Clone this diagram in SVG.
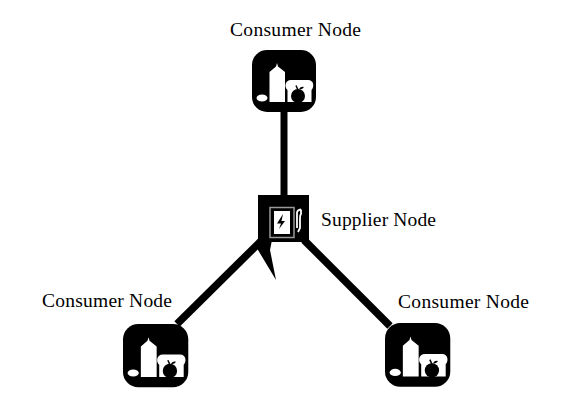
<svg xmlns="http://www.w3.org/2000/svg" width="569" height="404" viewBox="0 0 569 404">
<style>
text{font-family:"Liberation Serif","Times New Roman",serif;font-size:19.5px;fill:#000}
.w{fill:#fff}
</style>
<defs>
<g id="food">
<rect x="0" y="0" width="64" height="62" rx="15" fill="#000"/>
<path class="w" d="M17.500 52V22L24 16.500L25 13L26 16.500L33 22V52Z"/>
<ellipse class="w" cx="10" cy="48" rx="5.500" ry="3.500"/>
<path class="w" d="M35.500 52V40C32 37 33 30 39 30H56C62 30 62.500 37 59.500 40V52Z"/>
<circle cx="46" cy="46" r="7" fill="#000"/>
<path d="M46 40L44 35.500" stroke="#000" stroke-width="1.500" fill="none"/>
<path d="M47 39Q49 36 52 37Q50 40 47 39Z" fill="#000"/>
</g>
</defs>
<rect width="569" height="404" fill="#fff"/>
<g id="connectors">
<path d="M284 108V197" stroke="#000" stroke-width="7" fill="none"/>
<path d="M262 240L177 324" stroke="#000" stroke-width="7.500" fill="none"/>
<path d="M304 240L390 326" stroke="#000" stroke-width="7.500" fill="none"/>
<path d="M258 240V250L276 280L270 250L272 240Z" fill="#000"/>
</g>
<g id="node-top">
<use href="#food" x="252" y="50"/>
<text x="230" y="36" textLength="131">Consumer Node</text>
</g>
<g id="node-supplier">
<rect x="258" y="195" width="51" height="47" fill="#000"/>
<rect x="270" y="207.500" width="24" height="30" fill="none" stroke="#999" stroke-width="1.500"/>
<rect x="274" y="211" width="16" height="23" fill="#fff"/>
<path d="M283 214L277 223.500H281L279 229L285 221H281.500Z" fill="#000"/>
<path d="M297 228V213Q297 210 301 209.500M301 209.500V214Q300 215 300 218V228L298 232" fill="none" stroke="#fff" stroke-width="1.800"/>
<text x="321" y="226" textLength="115">Supplier Node</text>
</g>
<g id="node-left">
<use href="#food" transform="translate(123 324) scale(1.020 1.020)"/>
<text x="42" y="307" textLength="130">Consumer Node</text>
</g>
<g id="node-right">
<use href="#food" transform="translate(385 323) scale(1.020 1.030)"/>
<text x="398" y="308" textLength="131">Consumer Node</text>
</g>
</svg>
